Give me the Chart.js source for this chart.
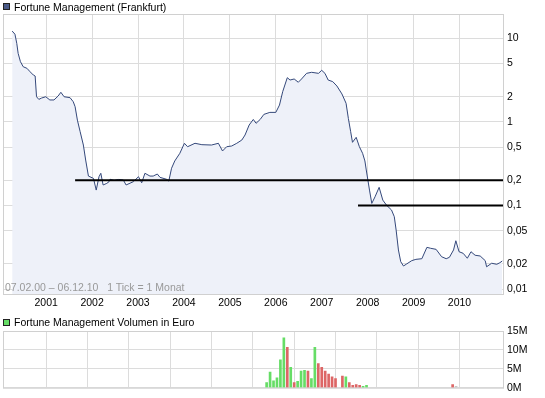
<!DOCTYPE html>
<html>
<head>
<meta charset="utf-8">
<script src="https://cdn.jsdelivr.net/npm/chart.js@4.4.1/dist/chart.umd.min.js"></script>
<style>
  body { margin: 0; background: #fff; font-family: "Liberation Sans", Arial, sans-serif; font-size: 10.5px; }
  #wrap { position: relative; width: 545px; height: 398px; overflow: hidden; }
  canvas { position: absolute; left: 0; }
  .legend { position: absolute; left: 14px; height: 12px; line-height: 12px; color: #000; white-space: nowrap; z-index: 2; }
  .box { position: absolute; left: 3px; width: 5px; height: 5px; border: 1px solid #222; z-index: 2; }
  #note { position: absolute; left: 5px; top: 281px; height: 12px; line-height: 12px; color: #999; white-space: nowrap; z-index: 2; }
</style>
</head>
<body>
<div id="wrap">
  <canvas id="price" width="545" height="310" style="top:0"></canvas>
  <canvas id="volume" width="545" height="78" style="top:320px"></canvas>
  <div class="box" style="top:3px;background:#4a5a88"></div>
  <div class="legend" style="top:1px">Fortune Management (Frankfurt)</div>
  <div id="note">07.02.00 – 06.12.10 &nbsp; 1 Tick = 1 Monat</div>
  <div class="box" style="top:319px;background:#66dd66"></div>
  <div class="legend" style="top:316px">Fortune Management Volumen in Euro</div>
</div>
<script>
// Kurs (Zeit als Dezimaljahr, Kurs in Euro)
var priceTimes = [
  2000.26, 2000.32, 2000.36, 2000.39, 2000.44, 2000.50, 2000.58, 2000.65, 2000.72, 2000.76,
  2000.79, 2000.84, 2000.90, 2000.99, 2001.08, 2001.17, 2001.26, 2001.32, 2001.39, 2001.52,
  2001.59, 2001.63, 2001.68, 2001.74, 2001.81, 2001.86, 2001.92, 2002.03, 2002.09, 2002.15,
  2002.19, 2002.24, 2002.32, 2002.37, 2002.39, 2002.48, 2002.58, 2002.68, 2002.74, 2002.90,
  2003.01, 2003.08, 2003.15, 2003.26, 2003.33, 2003.42, 2003.48, 2003.62, 2003.67, 2003.73,
  2003.80, 2003.91, 2004.01, 2004.08, 2004.24, 2004.39, 2004.60, 2004.75, 2004.84, 2004.93,
  2005.04, 2005.15, 2005.26, 2005.33, 2005.42, 2005.51, 2005.57, 2005.66, 2005.74, 2005.87,
  2006.00, 2006.08, 2006.15, 2006.25, 2006.31, 2006.40, 2006.49, 2006.56, 2006.67, 2006.78,
  2006.93, 2007.00, 2007.07, 2007.14, 2007.24, 2007.33, 2007.44, 2007.53, 2007.58, 2007.63,
  2007.67, 2007.75, 2007.82, 2007.89, 2007.94, 2007.97, 2008.04, 2008.09, 2008.16, 2008.25,
  2008.33, 2008.41, 2008.52, 2008.58, 2008.62, 2008.67, 2008.72, 2008.78, 2008.85, 2008.96,
  2009.05, 2009.18, 2009.29, 2009.37, 2009.49, 2009.61, 2009.71, 2009.78, 2009.87, 2009.92,
  2009.99, 2010.08, 2010.17, 2010.25, 2010.34, 2010.45, 2010.56, 2010.59, 2010.70, 2010.81,
  2010.88, 2010.93
];
var priceValues = [
  12.2, 11.2, 8.7, 6.6, 5.25, 4.57, 4.38, 3.98, 3.64, 3.54,
  2.0, 1.86, 1.93, 2.0, 1.83, 1.83, 2.04, 2.26, 2.0, 1.95,
  1.74, 1.52, 1.05, 0.764, 0.529, 0.35, 0.225, 0.211, 0.153, 0.221,
  0.243, 0.176, 0.184, 0.193, 0.206, 0.2, 0.205, 0.202, 0.176, 0.193,
  0.221, 0.187, 0.243, 0.225, 0.225, 0.238, 0.217, 0.206, 0.196, 0.279,
  0.341, 0.421, 0.555, 0.505, 0.555, 0.534, 0.529, 0.555, 0.449, 0.505,
  0.515, 0.555, 0.607, 0.697, 0.918, 1.07, 0.962, 1.07, 1.23, 1.30,
  1.30, 1.59, 2.30, 3.38, 3.17, 3.26, 2.98, 3.26, 3.81, 3.92,
  3.81, 4.14, 3.81, 3.17, 3.03, 2.69, 2.16, 1.67, 1.10, 0.764,
  0.570, 0.654, 0.505, 0.421, 0.341, 0.266, 0.153, 0.106, 0.127, 0.165,
  0.116, 0.101, 0.0883, 0.0735, 0.0509, 0.0294, 0.0213, 0.0189, 0.0200, 0.0219,
  0.0227, 0.0231, 0.0316, 0.0308, 0.0299, 0.0244, 0.0231, 0.0240, 0.0294, 0.0379,
  0.0280, 0.0268, 0.0234, 0.0280, 0.0254, 0.0249, 0.0219, 0.0185, 0.0204, 0.0198,
  0.0207, 0.0217
];

// Unterstuetzungslinien
var supportLevels = [0.2, 0.1];
var supportStarts = [2001.63, 2007.79];

var yearTicks = [2001, 2002, 2003, 2004, 2005, 2006, 2007, 2008, 2009, 2010];
var priceTickValues = [0.01, 0.02, 0.05, 0.1, 0.2, 0.5, 1, 2, 5, 10];
var priceTickLabels = ['0,01', '0,02', '0,05', '0,1', '0,2', '0,5', '1', '2', '5', '10'];

// Volumen in Mio. Euro
var volMonths = [
  '2005-11', '2005-12', '2006-01', '2006-02', '2006-03', '2006-04', '2006-05', '2006-06',
  '2006-07', '2006-08', '2006-09', '2006-10', '2006-11', '2006-12', '2007-01', '2007-02',
  '2007-03', '2007-04', '2007-05', '2007-06', '2007-07', '2007-09', '2007-10', '2007-11',
  '2007-12', '2008-01', '2008-02', '2008-03', '2008-04', '2010-05', '2010-06'
];
var volValues = [
  1.35, 4.1, 1.85, 2.6, 7.4, 13.2, 10.7, 5.4,
  1.35, 1.7, 4.4, 4.6, 4.4, 2.4, 10.7, 6.4,
  5.4, 4.4, 3.6, 2.9, 2.4, 3.1, 2.9, 1.35,
  0.6, 0.85, 0.6, 0.35, 0.6, 0.85, 0.35
];
var volMoves = [
  'up', 'up', 'up', 'up', 'up', 'up', 'down', 'up',
  'down', 'up', 'up', 'up', 'down', 'up', 'up', 'down',
  'down', 'down', 'down', 'down', 'down', 'down', 'up', 'down',
  'down', 'down', 'down', 'up', 'up', 'down', 'flat'
];
var volTickValues = [0, 5, 10, 15];
var volTickLabels = ['0M', '5M', '10M', '15M'];

var xMin = 2000.06, xMax = 2010.947;
var yMin = 0.00874, yMax = 19.53;
var font = { family: '"Liberation Sans", Arial, sans-serif', size: 10.5 };
var gridColor = '#dcdcdc';
var moveColors = { up: '#66dd66', down: '#dd6666', flat: '#c8c8c8' };

var framePlugin = {
  id: 'frame',
  beforeDatasetsDraw: function(chart) {
    var a = chart.chartArea, ctx = chart.ctx;
    ctx.save();
    ctx.strokeStyle = '#d0d0d0';
    ctx.lineWidth = 1;
    ctx.strokeRect(a.left + 0.5, a.top + 0.5, a.right - a.left, a.bottom - a.top);
    ctx.restore();
  }
};

function yearAxis(showLabels) {
  return {
    type: 'linear', min: xMin, max: xMax, bounds: 'data',
    afterBuildTicks: function(s) { s.ticks = yearTicks.map(function(y) { return { value: y }; }); },
    afterFit: function(s) { s.height = showLabels ? 16 : 0; },
    grid: { color: gridColor, drawTicks: false },
    border: { display: false },
    ticks: {
      display: showLabels, color: '#000', font: font, padding: 3, maxRotation: 0, autoSkip: false,
      callback: function(v) { return String(v); }
    }
  };
}

var points = priceTimes.map(function(t, i) { return { x: t, y: priceValues[i] }; });
var supportSets = supportLevels.map(function(lvl, i) {
  return {
    data: [{ x: supportStarts[i], y: lvl }, { x: xMax, y: lvl }],
    borderColor: '#000', borderWidth: 2, pointRadius: 0, fill: false, order: 0
  };
});

new Chart(document.getElementById('price').getContext('2d'), {
  type: 'line',
  data: {
    datasets: [{
      data: points,
      borderColor: '#34487a', borderWidth: 1, backgroundColor: '#eef1f9',
      fill: 'start', pointRadius: 0, tension: 0, order: 1
    }].concat(supportSets)
  },
  options: {
    responsive: false, animation: false, events: [],
    layout: { padding: { left: 3, top: 14, right: 0, bottom: 0 } },
    plugins: { legend: { display: false }, tooltip: { enabled: false } },
    scales: {
      x: yearAxis(true),
      y: {
        type: 'logarithmic', position: 'right', min: yMin, max: yMax, bounds: 'data',
        afterBuildTicks: function(s) { s.ticks = priceTickValues.map(function(v) { return { value: v }; }); },
        afterFit: function(s) { s.width = 42; },
        grid: { color: gridColor, drawTicks: false },
        border: { display: false },
        ticks: {
          color: '#000', font: font, padding: 4, autoSkip: false,
          callback: function(v) { var i = priceTickValues.indexOf(v); return i < 0 ? '' : priceTickLabels[i]; }
        }
      }
    }
  },
  plugins: [framePlugin]
});

var volPoints = volMonths.map(function(m, i) {
  var p = m.split('-');
  return { x: Number(p[0]) + (Number(p[1]) - 1) / 12, y: volValues[i] };
});

new Chart(document.getElementById('volume').getContext('2d'), {
  type: 'bar',
  data: {
    datasets: [{
      data: volPoints,
      backgroundColor: volMoves.map(function(m) { return moveColors[m]; }),
      barThickness: 2, borderWidth: 0
    }]
  },
  options: {
    responsive: false, animation: false, events: [],
    layout: { padding: { left: 3, top: 11, right: 0, bottom: 6 } },
    plugins: { legend: { display: false }, tooltip: { enabled: false } },
    scales: {
      x: yearAxis(false),
      y: {
        type: 'linear', position: 'right', min: 0, max: 15, bounds: 'data',
        afterBuildTicks: function(s) { s.ticks = volTickValues.map(function(v) { return { value: v }; }); },
        afterFit: function(s) { s.width = 42; },
        grid: { color: gridColor, drawTicks: false },
        border: { display: false },
        ticks: {
          color: '#000', font: font, padding: 4, autoSkip: false,
          callback: function(v) { var i = volTickValues.indexOf(v); return i < 0 ? '' : volTickLabels[i]; }
        }
      }
    }
  },
  plugins: [framePlugin]
});
</script>
</body>
</html>
